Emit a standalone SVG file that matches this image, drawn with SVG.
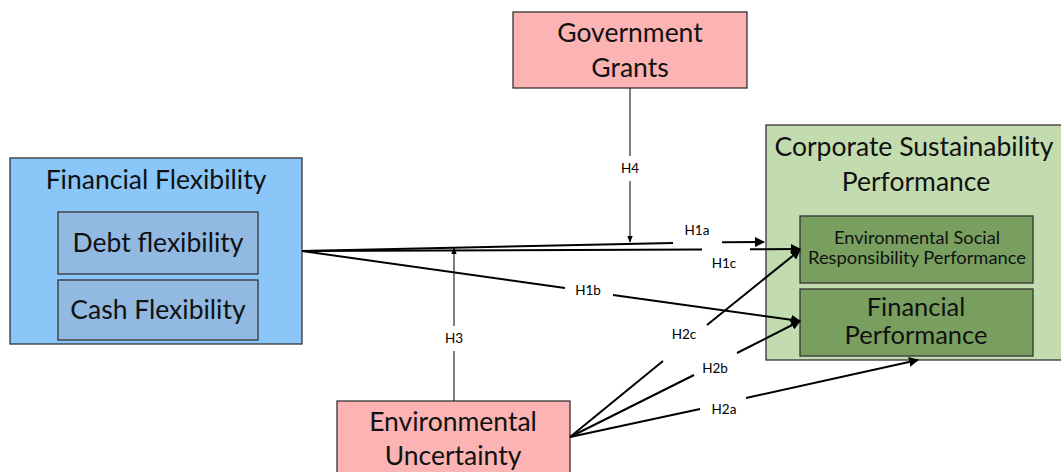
<svg xmlns="http://www.w3.org/2000/svg" width="1061" height="472" viewBox="0 0 1061 472">
<defs>
<marker id="ah" viewBox="0 0 10 10" refX="9" refY="5" markerWidth="5" markerHeight="5" orient="auto" markerUnits="strokeWidth"><path d="M0,0 L10,5 L0,10 z" fill="#000"/></marker>
<marker id="ah1" viewBox="0 0 10 10" refX="9" refY="5" markerWidth="7" markerHeight="7" orient="auto" markerUnits="strokeWidth"><path d="M0,1 L10,5 L0,9 z" fill="#000"/></marker>
</defs>
<style>
.box{stroke:#333;stroke-width:1.3}
.pink{fill:#fbb3b3}
.blue{fill:#8ac7f8}
.blue2{fill:#92b9e2}
.green{fill:#c3dcaf}
.green2{fill:#789f5f}
text{font-family:Lato,"Open Sans","Liberation Sans",sans-serif;fill:#111;text-anchor:middle}
.big{font-size:26.5px}
.mid{font-size:25.5px}
.sm{font-size:17px}
.lbl{font-size:13.5px;fill:#000}
.c{stroke:#000;fill:none;stroke-width:2}
.t{stroke:#000;fill:none;stroke-width:1}
</style>
<rect width="1061" height="472" fill="#fff"/>
<g id="government-grants">
<rect class="box pink" x="513" y="12" width="234" height="76"/>
<text class="big" x="630" y="42">Government</text>
<text class="big" x="630" y="77">Grants</text>
</g>
<g id="financial-flexibility">
<rect class="box blue" x="10" y="158" width="292" height="186"/>
<text class="big" x="156" y="189">Financial Flexibility</text>
<g id="debt-flexibility">
<rect class="box blue2" x="58" y="212" width="200" height="62"/>
<text class="big" x="158" y="252">Debt flexibility</text>
</g>
<g id="cash-flexibility">
<rect class="box blue2" x="58" y="280" width="200" height="60"/>
<text class="big" x="158" y="319">Cash Flexibility</text>
</g>
</g>
<g id="corporate-sustainability">
<rect class="box green" x="766" y="125" width="300" height="235"/>
<text class="big" x="914" y="156">Corporate Sustainability</text>
<text class="big" x="916" y="191">Performance</text>
<g id="esr-performance">
<rect class="box green2" x="800" y="216" width="233" height="67"/>
<text class="sm" x="917" y="243.5" textLength="166" lengthAdjust="spacingAndGlyphs">Environmental Social</text>
<text class="sm" x="917" y="264" textLength="218" lengthAdjust="spacingAndGlyphs">Responsibility Performance</text>
</g>
<g id="financial-performance">
<rect class="box green2" x="800" y="289" width="233" height="67"/>
<text class="mid" x="916" y="316">Financial</text>
<text class="mid" x="916" y="344">Performance</text>
</g>
</g>
<g id="environmental-uncertainty">
<rect class="box pink" x="337" y="401" width="233" height="80"/>
<text class="big" x="453" y="431">Environmental</text>
<text class="big" x="453" y="465">Uncertainty</text>
</g>
<g id="connectors">
<line class="t" x1="630" y1="88" x2="630" y2="156"/>
<line class="t" x1="630" y1="181" x2="630" y2="242" marker-end="url(#ah1)"/>
<line class="t" x1="454" y1="401" x2="454" y2="351"/>
<line class="t" x1="454" y1="326" x2="454" y2="248" marker-end="url(#ah1)"/>
<line class="c" x1="302" y1="251" x2="673" y2="243"/>
<line class="c" x1="722" y1="242.2" x2="764" y2="242" marker-end="url(#ah)"/>
<line class="c" x1="302" y1="251" x2="702" y2="249.5"/>
<line class="c" x1="750" y1="249.2" x2="800" y2="249" marker-end="url(#ah)"/>
<line class="c" x1="302" y1="251" x2="565" y2="288"/>
<line class="c" x1="613" y1="295" x2="800" y2="321" marker-end="url(#ah)"/>
<line class="c" x1="570" y1="437" x2="663" y2="361"/>
<line class="c" x1="707" y1="325" x2="800" y2="250" marker-end="url(#ah)"/>
<line class="c" x1="570" y1="437" x2="694" y2="375"/>
<line class="c" x1="737" y1="353" x2="800" y2="321" marker-end="url(#ah)"/>
<line class="c" x1="570" y1="437" x2="700" y2="409"/>
<line class="c" x1="746" y1="398" x2="918" y2="360" marker-end="url(#ah)"/>
<text class="lbl" x="630" y="173">H4</text>
<text class="lbl" x="454" y="343">H3</text>
<text class="lbl" x="697" y="235">H1a</text>
<text class="lbl" x="724" y="268">H1c</text>
<text class="lbl" x="588" y="295">H1b</text>
<text class="lbl" x="684" y="339">H2c</text>
<text class="lbl" x="715" y="373">H2b</text>
<text class="lbl" x="724" y="414">H2a</text>
</g>
</svg>
